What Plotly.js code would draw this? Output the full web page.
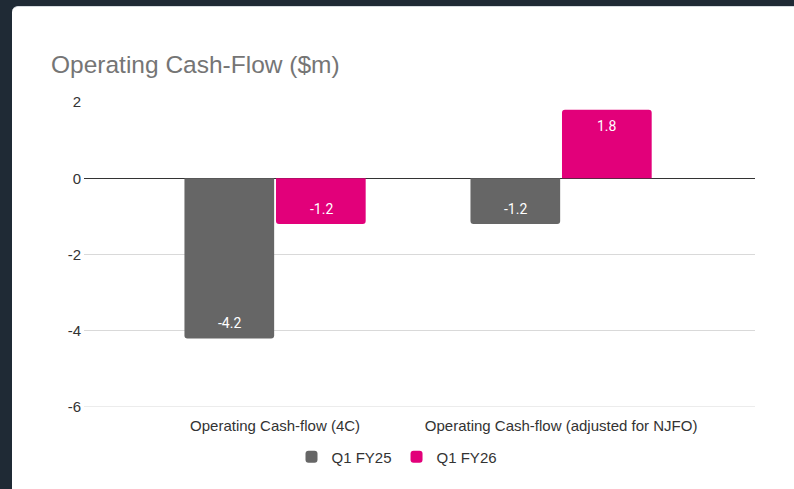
<!DOCTYPE html>
<html>
<head>
<meta charset="utf-8">
<script src="https://cdn.plot.ly/plotly-3.0.1.min.js"></script>
<style>
  html, body { margin: 0; padding: 0; background: #1f2a35; width: 794px; height: 489px; overflow: hidden; }
  #card { position: absolute; left: 12px; top: 6px; width: 800px; height: 500px; background: #ffffff; border-radius: 6px; border-top: 1px solid #d6dbe0; }
  #chart { position: absolute; left: 0; top: 0; width: 794px; height: 489px; }
</style>
</head>
<body>
<div id="card"></div>
<div id="chart"></div>
<script>
const categories = ["Operating Cash-flow (4C)", "Operating Cash-flow (adjusted for NJFO)"];
const seriesNames = ["Q1 FY25", "Q1 FY26"];
const q1fy25 = [-4.2, -1.2];
const q1fy26 = [-1.2, 1.8];
const colors = ["#666666", "#e2007a"];
const yTicks = [-6, -4, -2, 0, 2];

const seriesValues = [q1fy25, q1fy26];
const traces = seriesValues.map((vals, i) => ({
  type: "bar",
  name: seriesNames[i],
  x: categories,
  y: vals,
  marker: { color: colors[i] },
  hoverinfo: "none"
}));

const annotations = [];
seriesValues.forEach((vals, i) => {
  vals.forEach((v, j) => {
    annotations.push({
      x: categories[j], y: v, xref: "x", yref: "y",
      text: v.toFixed(1),
      showarrow: false,
      xshift: (i === 0 ? -46 : 46),
      yshift: v >= 0 ? -16 : 15,
      font: { family: "Roboto, Arial, sans-serif", size: 14, color: "#ffffff" }
    });
  });
});

const yMin = yTicks[0], yMax = yTicks[yTicks.length - 1];

const layout = {
  width: 794, height: 489,
  paper_bgcolor: "rgba(0,0,0,0)",
  plot_bgcolor: "rgba(0,0,0,0)",
  margin: { l: 84, r: 39, t: 102, b: 82 },
  barmode: "group",
  bargap: 0.36,
  bargroupgap: 0.02,
  barcornerradius: 3,
  title: {
    text: "Operating Cash-Flow ($m)",
    font: { family: "Liberation Sans, Arial, sans-serif", size: 24.5, color: "#757575" },
    xref: "container", yref: "container",
    x: 51 / 794, xanchor: "left",
    y: 1 - 64 / 489, yanchor: "middle"
  },
  xaxis: {
    type: "category",
    range: [-0.668, 1.678],
    showgrid: false,
    showline: false,
    zeroline: false,
    ticks: "",
    ticklabelstandoff: 8,
    tickfont: { family: "Liberation Sans, Arial, sans-serif", size: 15, color: "#333333" },
    fixedrange: true
  },
  yaxis: {
    range: [yMin, yMax],
    tickvals: yTicks,
    ticktext: yTicks.map(String),
    showgrid: true,
    gridcolor: "#d9d9d9",
    gridwidth: 1,
    zeroline: true,
    zerolinecolor: "#333333",
    zerolinewidth: 1,
    showline: false,
    ticks: "",
    ticklabelstandoff: 2,
    tickfont: { family: "Liberation Sans, Arial, sans-serif", size: 15, color: "#333333" },
    fixedrange: true
  },
  shapes: [{
    type: "line", xref: "paper", yref: "y",
    x0: 0, x1: 1, y0: yMin, y1: yMin,
    line: { color: "#d9d9d9", width: 1 },
    layer: "below"
  }],
  showlegend: true,
  legend: {
    orientation: "h",
    xref: "container", yref: "container",
    x: 0.5, xanchor: "center",
    y: 1 - 457 / 489, yanchor: "middle",
    font: { family: "Liberation Sans, Arial, sans-serif", size: 15, color: "#333333" },
    itemwidth: 30,
    traceorder: "normal"
  },
  annotations: annotations
};

Plotly.newPlot("chart", traces, layout, { displayModeBar: false, staticPlot: true });
</script>
</body>
</html>
